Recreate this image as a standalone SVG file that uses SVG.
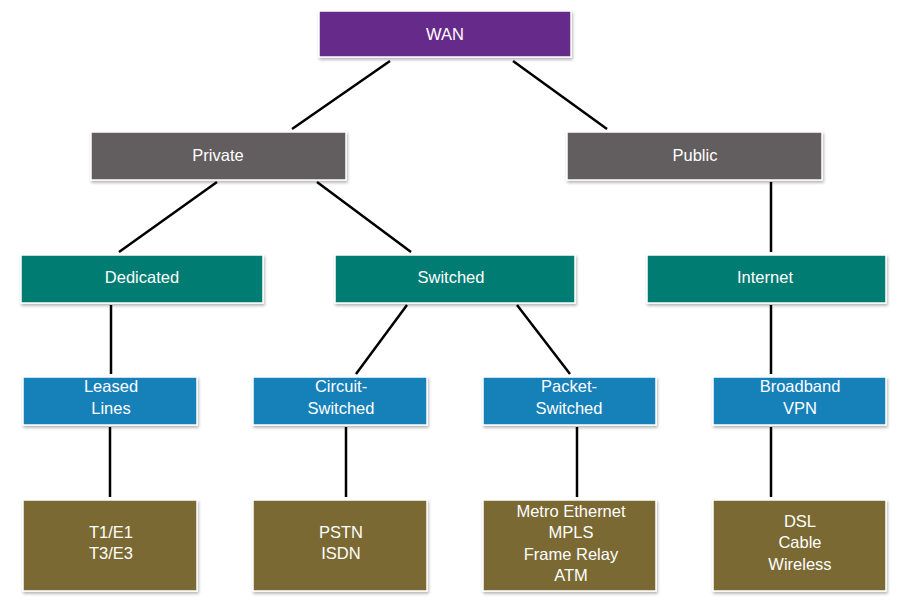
<svg xmlns="http://www.w3.org/2000/svg" width="910" height="601" viewBox="0 0 910 601">
<defs>
<filter id="sh" x="-10%" y="-20%" width="120%" height="150%">
<feDropShadow dx="1" dy="2" stdDeviation="1.5" flood-color="#000" flood-opacity="0.3"/>
</filter>
</defs>
<style>
.box{stroke:#fff;stroke-width:1.5;filter:url(#sh)}
.wan{fill:#662a8a}
.grey{fill:#625d5f}
.teal{fill:#067b72}
.blue{fill:#1580b9}
.olive{fill:#7a6933}
text{font-family:"Liberation Sans",Arial,sans-serif;font-size:16.5px;fill:#fff;text-anchor:middle}
.c line{stroke:#000;stroke-width:2.5}
</style>
<rect width="910" height="601" fill="#fff"/>
<g class="c" id="connectors">
<line x1="390" y1="61" x2="292" y2="129"/>
<line x1="513" y1="61" x2="607" y2="129"/>
<line x1="217" y1="182" x2="119" y2="252"/>
<line x1="317" y1="182" x2="411" y2="252"/>
<line x1="771" y1="182" x2="771" y2="252"/>
<line x1="111" y1="305" x2="111" y2="374"/>
<line x1="407" y1="305" x2="356" y2="374"/>
<line x1="517" y1="305" x2="570" y2="374"/>
<line x1="771" y1="305" x2="771" y2="374"/>
<line x1="110" y1="427" x2="110" y2="497"/>
<line x1="346" y1="427" x2="346" y2="497"/>
<line x1="577" y1="427" x2="577" y2="497"/>
<line x1="771" y1="427" x2="771" y2="497"/>
</g>
<g id="wan"><rect class="box wan" x="319" y="11" width="252" height="46"/><text x="445" y="39.5">WAN</text></g>
<g id="private"><rect class="box grey" x="91" y="132" width="255" height="48"/><text x="218" y="161">Private</text></g>
<g id="public"><rect class="box grey" x="567" y="132" width="255" height="48"/><text x="695" y="161">Public</text></g>
<g id="dedicated"><rect class="box teal" x="21" y="255" width="242" height="48"/><text x="142" y="283">Dedicated</text></g>
<g id="switched"><rect class="box teal" x="335" y="255" width="240" height="48"/><text x="451" y="283">Switched</text></g>
<g id="internet"><rect class="box teal" x="647" y="255" width="239" height="48"/><text x="765" y="283">Internet</text></g>
<g id="leased"><rect class="box blue" x="23" y="377" width="174" height="48"/><text x="111" y="392">Leased</text><text x="111" y="413.5">Lines</text></g>
<g id="circuit"><rect class="box blue" x="253" y="377" width="174" height="48"/><text x="341" y="392">Circuit-</text><text x="341" y="413.5">Switched</text></g>
<g id="packet"><rect class="box blue" x="483" y="377" width="173" height="48"/><text x="569" y="392">Packet-</text><text x="569" y="413.5">Switched</text></g>
<g id="broadband"><rect class="box blue" x="713" y="377" width="173" height="48"/><text x="800" y="392">Broadband</text><text x="800" y="413.5">VPN</text></g>
<g id="t1"><rect class="box olive" x="23" y="500" width="174" height="91"/><text x="111" y="537.5">T1/E1</text><text x="111" y="559">T3/E3</text></g>
<g id="pstn"><rect class="box olive" x="253" y="500" width="174" height="91"/><text x="341" y="537.5">PSTN</text><text x="341" y="559">ISDN</text></g>
<g id="metro"><rect class="box olive" x="483" y="500" width="173" height="91"/><text x="571" y="516.5">Metro Ethernet</text><text x="571" y="538">MPLS</text><text x="571" y="559.5">Frame Relay</text><text x="571" y="581">ATM</text></g>
<g id="dsl"><rect class="box olive" x="713" y="500" width="173" height="91"/><text x="800" y="526.5">DSL</text><text x="800" y="548">Cable</text><text x="800" y="569.5">Wireless</text></g>
</svg>
